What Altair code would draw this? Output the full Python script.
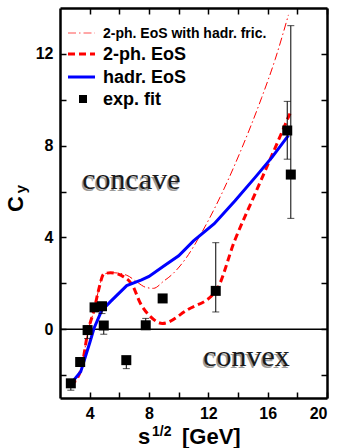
import altair as alt
import pandas as pd

# --- model curves: C_y versus collision energy sqrt(s) [GeV] ---
hadr_x = [2.7, 3.4, 4.0, 4.3, 4.8, 5.4, 6.5, 7.5, 8.0, 9.0, 10.0, 11.0, 12.4, 13.8, 15.2, 16.3, 17.4]
hadr_y = [-2.4, -1.85, -0.6, 0.05, 0.8, 1.2, 1.9, 2.15, 2.3, 2.75, 3.2, 3.85, 4.6, 5.6, 6.65, 7.5, 8.45]

twoph_x = [2.7, 3.4, 3.9, 4.3, 4.6, 4.95, 5.4, 6.3, 6.9, 7.4, 8.1, 8.9, 10.6, 12.5, 13.8, 15.15, 16.3, 17.5]
twoph_y = [-2.45, -1.8, -0.05, 0.85, 1.7, 2.4, 2.46, 2.28, 1.9, 1.15, 0.55, 0.25, 0.85, 1.65, 3.9, 5.9, 7.6, 9.4]

fric_x = [2.7, 3.4, 3.9, 4.3, 4.6, 4.95, 5.6, 6.5, 7.2, 7.8, 8.3, 9.0, 9.5, 10.5, 11.5, 12.9, 14.2, 15.6, 16.5, 17.4]
fric_y = [-2.45, -1.8, -0.05, 0.85, 1.7, 2.4, 2.46, 2.35, 2.05, 1.82, 1.78, 2.1, 2.35, 3.1, 4.15, 5.9, 7.8, 10.1, 11.75, 13.7]

# --- experimental fit values with error ranges ---
exp_x = [2.73, 3.36, 3.86, 4.33, 4.83, 4.95, 6.47, 7.78, 8.92, 12.5, 17.32, 17.56]
exp_y = [-2.36, -1.43, -0.04, 0.95, 1.0, 0.16, -1.35, 0.17, 1.34, 1.67, 8.66, 6.74]
exp_lo = [-2.66, -1.6, -0.41, 0.8, 0.68, -0.22, -1.72, 0.0, 1.2, 0.75, 7.41, 4.83]
exp_hi = [-2.2, -1.26, 0.15, 1.1, 1.15, 0.3, -1.2, 0.47, 1.5, 3.77, 9.93, 13.23]

x_ticks = [4, 6, 8, 10, 12, 14, 16, 18, 20]
y_ticks = [-2, 0, 2, 4, 6, 8, 10, 12]

legend_labels = ["2-ph. EoS with hadr. fric.", "2-ph. EoS", "hadr. EoS", "exp. fit"]

W, H = 267, 390
X_DOM = [2, 20]
Y_DOM = [-3, 14]

hadr = pd.DataFrame({"x": hadr_x, "y": hadr_y})
twoph = pd.DataFrame({"x": twoph_x, "y": twoph_y})
fric = pd.DataFrame({"x": fric_x, "y": fric_y})
exp = pd.DataFrame({"x": exp_x, "y": exp_y, "lo": exp_lo, "hi": exp_hi})

xs = alt.Scale(domain=X_DOM, nice=False, zero=False)
ys = alt.Scale(domain=Y_DOM, nice=False, zero=False)

FONT = "Liberation Sans"
INWARD = alt.ExprRef("-6")

axis_common = dict(
    domainColor="black", domainWidth=2.5, tickColor="black", tickWidth=1.5,
    tickSize=INWARD, grid=False, title=None,
    labelFont=FONT, labelFontSize=16, labelFontWeight="bold", labelColor="black",
)

x_bottom = alt.X("x:Q", scale=xs, axis=alt.Axis(
    orient="bottom", values=x_ticks, labelPadding=13,
    labelExpr="datum.value % 4 === 0 ? datum.label : ''", **axis_common))
y_left = alt.Y("y:Q", scale=ys, axis=alt.Axis(
    orient="left", values=y_ticks, labelPadding=13,
    labelExpr="datum.value % 4 === 0 ? datum.label : ''", **axis_common))
x_top = alt.X("x:Q", scale=xs, axis=alt.Axis(
    orient="top", values=x_ticks, labels=False, **axis_common))
y_right = alt.Y("y:Q", scale=ys, axis=alt.Axis(
    orient="right", values=y_ticks, labels=False, **axis_common))

xn = alt.X("x:Q", scale=xs, axis=None)
yn = alt.Y("y:Q", scale=ys, axis=None)

# zero line, carrying the bottom/left axes
zero = alt.Chart(pd.DataFrame({"x": [2, 20], "y": [0, 0]})).mark_line(
    color="black", strokeWidth=1.5).encode(x=x_bottom, y=y_left)
# invisible layer carrying the mirrored top/right axes
mirror = alt.Chart(pd.DataFrame({"x": [2, 20], "y": [0, 0]})).mark_line(
    opacity=0).encode(x=x_top, y=y_right)

blue_line = alt.Chart(hadr).mark_line(color="#0000ff", strokeWidth=3).encode(
    x=xn, y=yn, order="x:Q")
red_dash = alt.Chart(twoph).mark_line(
    color="#ff0000", strokeWidth=3, strokeDash=[7, 4], interpolate="monotone").encode(
    x=xn, y=yn, order="x:Q")
red_dashdot = alt.Chart(fric).mark_line(
    color="#ff0000", strokeWidth=1, strokeDash=[8, 3, 1.5, 3], interpolate="monotone").encode(
    x=xn, y=yn, order="x:Q")

err = alt.Chart(exp).mark_rule(color="black", strokeWidth=1).encode(
    x=xn, y=alt.Y("lo:Q", scale=ys, axis=None), y2="hi:Q")
cap_lo = alt.Chart(exp).mark_tick(color="black", thickness=1, size=7, orient="horizontal").encode(
    x=xn, y=alt.Y("lo:Q", scale=ys, axis=None))
cap_hi = alt.Chart(exp).mark_tick(color="black", thickness=1, size=7, orient="horizontal").encode(
    x=xn, y=alt.Y("hi:Q", scale=ys, axis=None))
pts = alt.Chart(exp).mark_square(color="black", size=100, opacity=1).encode(x=xn, y=yn)

# region annotations (serif, with a soft gray shadow)
ann = pd.DataFrame({"x": [3.5, 11.65], "y": [6.1, -1.62], "t": ["concave", "convex"]})
ann_shadow = alt.Chart(ann).mark_text(
    font="Liberation Serif", fontSize=30, align="left", baseline="alphabetic",
    color="#9a9a9a", dx=-1.5, dy=1.5).encode(x=xn, y=yn, text="t:N")
ann_text = alt.Chart(ann).mark_text(
    font="Liberation Serif", fontSize=30, align="left", baseline="alphabetic",
    color="#1a1a1a").encode(x=xn, y=yn, text="t:N")

# legend, drawn in the upper-left corner of the plot
one = pd.DataFrame({"k": [0]})
leg_rows = [25, 46, 69, 91]
leg_fric = alt.Chart(one).mark_rule(color="#ff5050", strokeWidth=1, strokeDash=[8, 3, 1.5, 3]).encode(
    x=alt.value(8), x2=alt.value(35), y=alt.value(leg_rows[0]))
leg_dash = alt.Chart(one).mark_rule(color="#ff0000", strokeWidth=3, strokeDash=[7, 4]).encode(
    x=alt.value(8), x2=alt.value(35), y=alt.value(leg_rows[1]))
leg_blue = alt.Chart(one).mark_rule(color="#0000ff", strokeWidth=3).encode(
    x=alt.value(8), x2=alt.value(35), y=alt.value(leg_rows[2]))
leg_sq = alt.Chart(one).mark_square(color="black", size=64, opacity=1).encode(
    x=alt.value(23), y=alt.value(leg_rows[3]))
leg_texts = []
for i, (lab, row) in enumerate(zip(legend_labels, leg_rows)):
    leg_texts.append(alt.Chart(one).mark_text(
        text=lab, font=FONT, fontWeight="bold", fontSize=14 if i == 0 else 18,
        align="left", baseline="middle", color="black").encode(
        x=alt.value(43), y=alt.value(row + 1)))

# axis titles with sub/superscripts
def txt(s, x, y, size, angle=0, align="left", baseline="alphabetic"):
    kw = dict(text=s, font=FONT, fontWeight="bold", fontSize=size,
              align=align, baseline=baseline, color="black")
    if angle:
        kw["angle"] = angle
    return alt.Chart(one).mark_text(**kw).encode(x=alt.value(x), y=alt.value(y))

xt_s = txt("s", 78, 436, 22)
xt_sup = txt("1/2", 92, 428, 14)
xt_gev = txt("[GeV]", 122, 436, 22)
yt_c = txt("C", -37, 196, 22, angle=270, align="center")
yt_y = txt("y", -34, 181, 15, angle=270, align="center")

chart = alt.layer(
    zero, mirror, red_dashdot, red_dash, blue_line, err, cap_lo, cap_hi, pts,
    ann_shadow, ann_text, leg_fric, leg_dash, leg_blue, leg_sq, *leg_texts,
    xt_s, xt_sup, xt_gev, yt_c, yt_y,
).resolve_axis(x="independent", y="independent").properties(
    width=W, height=H,
    autosize=alt.AutoSizeParams(type="none"),
    padding={"left": 60, "top": 8, "right": 10, "bottom": 50},
    background="white",
).configure_view(stroke=None)

chart.save("out.html", embed_options={"renderer": "svg", "actions": False})
